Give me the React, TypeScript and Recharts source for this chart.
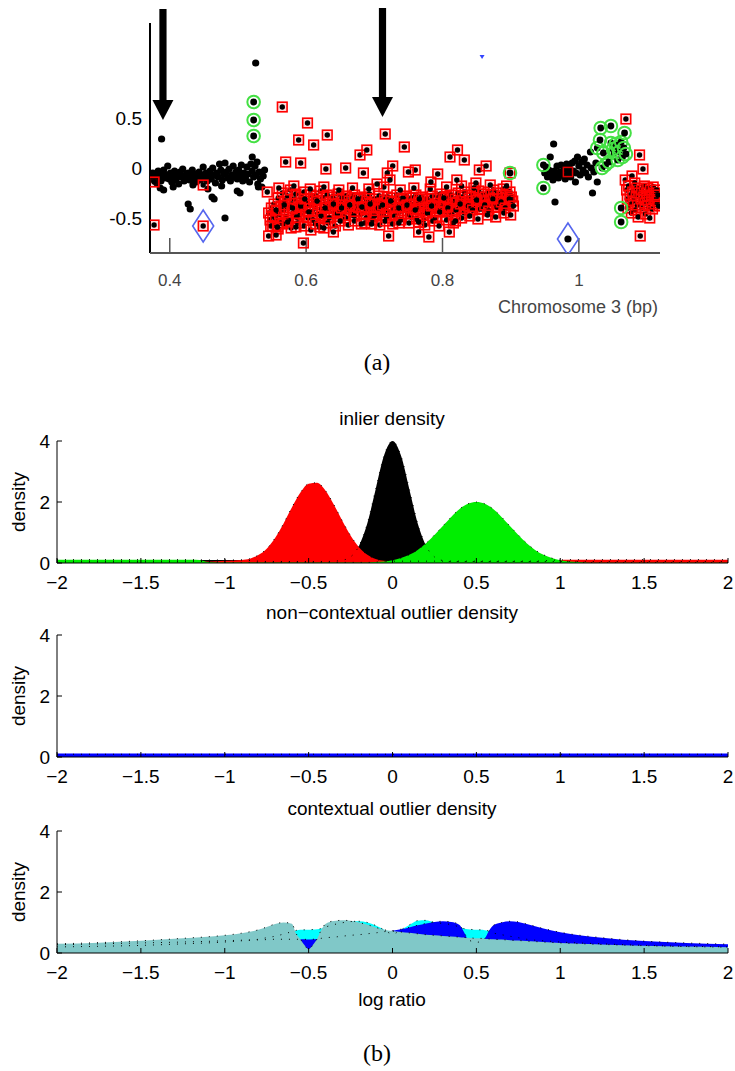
import React from "react";
import {
  ScatterChart,
  Scatter,
  ComposedChart,
  Area,
  Line,
  XAxis,
  YAxis,
  ReferenceLine,
} from "recharts";

const SANS = '"Liberation Sans", Arial, Helvetica, sans-serif';
const SERIF = '"Liberation Serif", "Times New Roman", serif';

// ---------- panel (a): chromosome 3 scatter ----------
const A_X_TICKS = [0.4, 0.6, 0.8, 1];
const A_Y_TICKS = [-0.5, 0, 0.5];

// plain black probes
const BLACK_PTS: [number, number][] = [
  [0.373, -0.1], [0.375, -0.05], [0.377, -0.12], [0.379, -0.08], [0.381, -0.15], [0.383, -0.03],
  [0.385, -0.09], [0.387, -0.13], [0.389, -0.06], [0.391, -0.02], [0.393, -0.1], [0.395, -0.07],
  [0.397, 0.02], [0.399, -0.11], [0.401, -0.05], [0.403, -0.14], [0.405, -0.08], [0.407, -0.03],
  [0.409, -0.12], [0.411, -0.06], [0.413, -0.16], [0.415, -0.04], [0.417, -0.09], [0.419, -0.01],
  [0.421, -0.13], [0.423, -0.07], [0.425, -0.1], [0.427, -0.05], [0.429, -0.12], [0.431, -0.08],
  [0.433, -0.02], [0.435, -0.11], [0.437, -0.06], [0.439, -0.14], [0.441, -0.09], [0.443, -0.04],
  [0.445, -0.12], [0.447, -0.07], [0.449, 0.01], [0.451, -0.1], [0.453, -0.05], [0.455, -0.13],
  [0.457, -0.08], [0.459, -0.03], [0.461, -0.11], [0.463, 0.0], [0.465, -0.07], [0.467, -0.15],
  [0.469, -0.05], [0.471, -0.09], [0.473, 0.04], [0.475, -0.02], [0.477, -0.12], [0.479, -0.06],
  [0.481, 0.05], [0.483, -0.04], [0.485, -0.1], [0.487, -0.01], [0.489, -0.13], [0.491, -0.07],
  [0.493, 0.02], [0.495, -0.09], [0.497, -0.04], [0.499, -0.11], [0.501, -0.02], [0.503, -0.08],
  [0.505, 0.03], [0.507, -0.13], [0.509, -0.05], [0.511, -0.1], [0.513, 0.01], [0.515, -0.06],
  [0.517, -0.14], [0.519, 0.04], [0.521, -0.03], [0.523, -0.09], [0.525, 0.02], [0.527, -0.07],
  [0.529, -0.16], [0.531, -0.04], [0.533, -0.11], [0.535, -0.19], [0.537, -0.08], [0.539, -0.02],
  [0.528, 0.06], [0.521, 0.11], [0.476, -0.18], [0.456, -0.21], [0.434, -0.17], [0.405, -0.19],
  [0.386, -0.2], [0.391, -0.22], [0.388, 0.29], [0.427, -0.36], [0.43, -0.41], [0.462, -0.29],
  [0.465, -0.31], [0.481, -0.5], [0.499, -0.23], [0.503, -0.25], [0.526, 1.05], [0.53, -0.19],
  [0.95, -0.05], [0.952, 0.01], [0.954, -0.09], [0.956, -0.02], [0.958, 0.11], [0.96, -0.06],
  [0.962, -0.12], [0.963, 0.24], [0.964, -0.03], [0.966, -0.08], [0.965, -0.34], [0.968, 0.02],
  [0.97, -0.1], [0.972, -0.04], [0.974, 0.03], [0.976, -0.07], [0.978, -0.01], [0.98, -0.11],
  [0.982, 0.04], [0.984, -0.06], [0.986, 0.0], [0.988, -0.09], [0.99, 0.05], [0.992, -0.03],
  [0.994, 0.07], [0.995, -0.14], [0.996, -0.05], [0.998, 0.11], [1.0, 0.02], [1.002, -0.07],
  [1.004, 0.06], [1.006, -0.02], [1.008, 0.09], [1.01, -0.05], [1.012, 0.03], [1.014, -0.09],
  [1.017, 0.16], [1.018, 0.0], [1.02, -0.25], [1.022, -0.04], [1.027, -0.14], [1.025, 0.05],
];

// red squares (state call: loss)
const RED_PTS: [number, number][] = [
  [0.377, -0.14], [0.377, -0.57], [0.449, -0.17], [0.449, -0.58],
  [0.545, -0.45], [0.547, -0.52], [0.549, -0.4], [0.551, -0.48], [0.553, -0.36], [0.555, -0.5],
  [0.557, -0.43], [0.559, -0.3], [0.561, -0.46], [0.563, -0.38], [0.565, -0.25], [0.567, -0.42],
  [0.569, -0.33], [0.571, -0.49], [0.573, -0.28], [0.575, -0.4], [0.577, -0.22], [0.579, -0.36],
  [0.581, -0.45], [0.583, -0.31], [0.585, -0.26], [0.587, -0.41], [0.589, -0.35], [0.591, -0.47],
  [0.593, -0.29], [0.595, -0.38], [0.597, -0.24], [0.599, -0.43], [0.601, -0.33], [0.603, -0.5],
  [0.605, -0.37], [0.607, -0.27], [0.609, -0.44], [0.611, -0.32], [0.613, -0.4], [0.615, -0.28],
  [0.617, -0.46], [0.619, -0.35], [0.621, -0.23], [0.623, -0.41], [0.625, -0.3], [0.627, -0.48],
  [0.629, -0.36], [0.631, -0.27], [0.633, -0.43], [0.635, -0.34], [0.637, -0.39], [0.639, -0.29],
  [0.641, -0.45], [0.643, -0.32], [0.645, -0.38], [0.647, -0.26], [0.649, -0.42], [0.651, -0.35],
  [0.653, -0.3], [0.655, -0.47], [0.657, -0.37], [0.659, -0.28], [0.661, -0.41], [0.663, -0.33],
  [0.665, -0.44], [0.667, -0.31], [0.669, -0.38], [0.671, -0.27], [0.673, -0.43], [0.675, -0.35],
  [0.677, -0.4], [0.679, -0.3], [0.681, -0.46], [0.683, -0.36], [0.685, -0.29], [0.687, -0.42],
  [0.689, -0.33], [0.691, -0.39], [0.693, -0.26], [0.695, -0.45], [0.697, -0.34], [0.699, -0.4],
  [0.701, -0.31], [0.703, -0.43], [0.705, -0.36], [0.707, -0.28], [0.709, -0.41], [0.711, -0.35],
  [0.713, -0.47], [0.715, -0.32], [0.717, -0.39], [0.719, -0.29], [0.721, -0.44], [0.723, -0.37],
  [0.725, -0.3], [0.727, -0.42], [0.729, -0.34], [0.731, -0.4], [0.733, -0.27], [0.735, -0.45],
  [0.737, -0.36], [0.739, -0.31], [0.741, -0.43], [0.743, -0.35], [0.745, -0.39], [0.747, -0.28],
  [0.749, -0.46], [0.751, -0.33], [0.753, -0.4], [0.755, -0.3], [0.757, -0.44], [0.759, -0.36],
  [0.761, -0.27], [0.763, -0.41], [0.765, -0.34], [0.767, -0.38], [0.769, -0.29], [0.771, -0.47],
  [0.773, -0.35], [0.775, -0.42], [0.777, -0.31], [0.779, -0.39], [0.781, -0.45], [0.783, -0.33],
  [0.785, -0.28], [0.787, -0.4], [0.789, -0.36], [0.791, -0.43], [0.793, -0.3], [0.795, -0.38],
  [0.797, -0.26], [0.799, -0.41], [0.801, -0.34], [0.803, -0.37], [0.805, -0.29], [0.807, -0.44],
  [0.809, -0.32], [0.811, -0.39], [0.813, -0.27], [0.815, -0.36], [0.817, -0.42], [0.819, -0.31],
  [0.821, -0.35], [0.823, -0.25], [0.825, -0.4], [0.827, -0.33], [0.829, -0.29], [0.831, -0.38],
  [0.833, -0.24], [0.835, -0.34], [0.837, -0.41], [0.839, -0.3], [0.841, -0.36], [0.843, -0.27],
  [0.845, -0.33], [0.847, -0.39], [0.849, -0.28], [0.851, -0.35], [0.853, -0.23], [0.855, -0.31],
  [0.857, -0.37], [0.859, -0.26], [0.861, -0.33], [0.863, -0.29], [0.865, -0.38], [0.867, -0.24],
  [0.869, -0.32], [0.871, -0.27], [0.873, -0.36], [0.875, -0.22], [0.877, -0.3], [0.879, -0.34],
  [0.881, -0.25], [0.883, -0.31], [0.885, -0.37], [0.887, -0.28], [0.889, -0.21], [0.891, -0.33],
  [0.893, -0.26], [0.895, -0.3], [0.897, -0.36], [0.899, -0.24], [0.901, -0.29], [0.903, -0.33],
  [0.548, -0.58], [0.556, -0.42], [0.562, -0.55], [0.568, -0.37], [0.574, -0.52], [0.58, -0.4],
  [0.586, -0.49], [0.592, -0.38], [0.598, -0.31], [0.604, -0.44], [0.61, -0.52], [0.616, -0.33],
  [0.622, -0.48], [0.628, -0.4], [0.634, -0.5], [0.64, -0.36], [0.646, -0.46], [0.652, -0.4],
  [0.658, -0.5], [0.664, -0.37], [0.67, -0.48], [0.676, -0.31], [0.682, -0.39], [0.688, -0.5],
  [0.694, -0.36], [0.7, -0.48], [0.706, -0.4], [0.712, -0.37], [0.718, -0.5], [0.724, -0.33],
  [0.73, -0.48], [0.736, -0.4], [0.742, -0.3], [0.748, -0.37], [0.754, -0.49], [0.76, -0.42],
  [0.766, -0.31], [0.772, -0.52], [0.778, -0.45], [0.784, -0.38], [0.79, -0.5], [0.796, -0.44],
  [0.802, -0.3], [0.808, -0.4], [0.814, -0.47], [0.82, -0.42], [0.826, -0.36], [0.832, -0.45],
  [0.838, -0.38], [0.844, -0.42], [0.85, -0.32], [0.856, -0.41], [0.862, -0.37], [0.868, -0.43],
  [0.874, -0.31], [0.88, -0.39], [0.886, -0.34], [0.892, -0.4], [0.898, -0.31], [0.904, -0.38],
  [0.551, -0.58], [0.559, -0.61], [0.566, -0.56], [0.578, -0.6], [0.588, -0.55], [0.597, -0.58],
  [0.607, -0.62], [0.614, -0.56], [0.62, -0.59], [0.632, -0.55], [0.643, -0.58], [0.65, -0.53],
  [0.662, -0.57], [0.671, -0.53], [0.686, -0.55], [0.698, -0.52], [0.708, -0.57], [0.716, -0.53],
  [0.727, -0.56], [0.739, -0.52], [0.751, -0.55], [0.762, -0.51], [0.774, -0.57], [0.786, -0.53],
  [0.795, -0.58], [0.806, -0.52], [0.816, -0.55], [0.828, -0.5], [0.84, -0.48], [0.852, -0.51],
  [0.866, -0.47], [0.878, -0.49], [0.89, -0.45], [0.9, -0.47],
  [0.56, -0.2], [0.582, -0.18], [0.606, -0.21], [0.626, -0.19], [0.648, -0.22], [0.668, -0.2],
  [0.692, -0.21], [0.714, -0.19], [0.738, -0.22], [0.758, -0.2], [0.782, -0.21], [0.806, -0.19],
  [0.828, -0.18], [0.846, -0.2], [0.87, -0.17], [0.894, -0.18],
  [0.565, 0.61], [0.602, 0.45], [0.589, 0.28], [0.611, 0.23], [0.631, 0.33], [0.57, 0.06],
  [0.592, 0.05], [0.629, -0.01], [0.658, 0.0], [0.679, 0.13], [0.689, 0.18], [0.716, 0.34],
  [0.744, 0.21], [0.727, 0.02], [0.719, -0.05], [0.684, -0.05], [0.704, -0.16], [0.723, -0.12],
  [0.76, -0.02], [0.75, -0.04], [0.793, -0.06], [0.811, 0.11], [0.822, 0.18], [0.832, 0.08],
  [0.821, -0.12], [0.854, -0.02], [0.864, 0.02], [0.899, -0.05], [0.849, -0.15], [0.783, -0.14],
  [0.543, -0.24], [0.545, -0.68], [0.556, -0.67], [0.596, -0.75], [0.573, -0.54], [0.585, -0.59],
  [0.626, -0.6], [0.64, -0.64], [0.681, -0.56], [0.696, -0.56], [0.721, -0.68], [0.736, -0.55],
  [0.765, -0.64], [0.78, -0.69], [0.81, -0.64], [0.819, -0.53], [0.765, -0.54], [0.558, -0.59],
  [1.068, -0.12], [1.07, -0.22], [1.071, -0.31], [1.072, -0.4], [1.073, -0.18], [1.075, -0.27],
  [1.076, -0.36], [1.077, -0.45], [1.078, -0.08], [1.079, -0.24], [1.08, -0.33], [1.082, -0.15],
  [1.083, -0.42], [1.084, -0.28], [1.085, -0.2], [1.086, -0.37], [1.087, -0.49], [1.088, -0.25],
  [1.089, 0.13], [1.09, -0.68], [1.091, -0.31], [1.092, -0.22], [1.093, -0.4], [1.094, -0.01],
  [1.095, -0.29], [1.096, -0.18], [1.097, -0.35], [1.098, -0.46], [1.099, -0.25], [1.1, -0.32],
  [1.101, -0.2], [1.102, -0.38], [1.103, -0.28], [1.104, -0.5], [1.105, -0.22], [1.106, -0.34],
  [1.107, -0.27], [1.108, -0.41], [1.109, -0.19], [1.11, -0.31], [1.111, -0.25], [1.112, -0.36],
  [1.113, -0.29], [1.114, -0.22], [1.115, -0.33], [1.116, -0.27], [1.117, -0.38], [1.069, 0.49],
];

// green circles (state call: gain)
const GREEN_PTS: [number, number][] = [
  [0.523, 0.66], [0.523, 0.48], [0.523, 0.32], [0.948, 0.03], [0.948, -0.2], [0.899, -0.05],
  [1.027, 0.2], [1.031, 0.28], [1.032, 0.4], [1.034, 0.0], [1.036, 0.15], [1.039, 0.03],
  [1.044, 0.06], [1.047, 0.42], [1.047, 0.25], [1.05, 0.19], [1.052, 0.15], [1.054, 0.24],
  [1.057, 0.21], [1.057, 0.08], [1.059, 0.16], [1.062, 0.26], [1.064, 0.11], [1.066, 0.2],
  [1.067, 0.35], [1.069, 0.14], [1.062, -0.4], [1.062, -0.54],
];

const DIAMOND_PTS: [number, number][] = [[0.449, -0.58], [0.984, -0.71]];
const LONE_BLACK_PTS: [number, number][] = [[0.984, -0.71]];
const EMPTY_RED_PTS: [number, number][] = [[0.984, -0.04]];
const BLUE_MARK_PTS: [number, number][] = [[0.858, 1.11]];
const ARROW_TIPS: [number, number][] = [[0.39, 0.48], [0.712, 0.51]];

// ---------- panel (b): densities over log ratio ----------
const LOG_TICKS = [-2, -1.5, -1, -0.5, 0, 0.5, 1, 1.5, 2];
const DENS_TICKS = [0, 2, 4];

const INL_X = [
  -2, -1.5, -1.2, -1.15, -1.1, -1.05, -1, -0.95, -0.9, -0.85, -0.8, -0.75, -0.7, -0.65, -0.6,
  -0.55, -0.5, -0.45, -0.4, -0.35, -0.3, -0.25, -0.2, -0.15, -0.1, -0.05, 0, 0.05, 0.1, 0.15,
  0.2, 0.25, 0.3, 0.35, 0.4, 0.45, 0.5, 0.55, 0.6, 0.65, 0.7, 0.75, 0.8, 0.85, 0.9, 0.95, 1,
  1.05, 1.1, 1.15, 1.2, 1.5, 2,
];
const INL_BLACK = [
  0.06, 0.06, 0.07, 0.1, 0.1, 0.1, 0.1, 0.1, 0.1, 0.08, 0.06, 0.05, 0.05, 0.05, 0.05,
  0.05, 0.05, 0.05, 0.05, 0.06, 0.09, 0.2, 0.56, 1.3, 2.43, 3.53, 4, 3.53, 2.43, 1.3,
  0.56, 0.2, 0.08, 0.05, 0.05, 0.05, 0.05, 0.05, 0.05, 0.05, 0.05, 0.05, 0.05, 0.05, 0.05, 0.05, 0.05,
  0.05, 0.05, 0.05, 0.05, 0.05, 0.05,
];
const INL_RED = [
  0.03, 0.03, 0.04, 0.05, 0.05, 0.06, 0.07, 0.08, 0.1, 0.14, 0.26, 0.47, 0.82, 1.29, 1.82,
  2.3, 2.6, 2.63, 2.38, 1.92, 1.39, 0.9, 0.52, 0.27, 0.13, 0.07, 0.06, 0.06, 0.06, 0.06,
  0.06, 0.06, 0.06, 0.06, 0.06, 0.06, 0.06, 0.06, 0.06, 0.06, 0.06, 0.06, 0.06, 0.06, 0.07, 0.09, 0.1,
  0.11, 0.11, 0.11, 0.11, 0.11, 0.11,
];
const INL_GREEN = [
  0.11, 0.11, 0.11, 0.1, 0.03, 0.02, 0.02, 0.02, 0.02, 0.02, 0.02, 0.02, 0.02, 0.02, 0.02,
  0.02, 0.02, 0.02, 0.02, 0.02, 0.02, 0.02, 0.02, 0.02, 0.03, 0.05, 0.09, 0.16, 0.27, 0.43,
  0.65, 0.92, 1.21, 1.51, 1.77, 1.94, 2.0, 1.94, 1.77, 1.51, 1.21, 0.92, 0.65, 0.43, 0.27, 0.16, 0.09,
  0.05, 0.03, 0.02, 0.01, 0.01, 0.01,
];

const NC_X = [-2, -1, 0, 1, 2];
const NC_BLUE = [0.09, 0.09, 0.09, 0.09, 0.09];

const CTX_X = [
  -2, -1.75, -1.5, -1.25, -1, -0.9, -0.8, -0.75, -0.7, -0.65, -0.6, -0.575, -0.55, -0.525,
  -0.5, -0.475, -0.45, -0.425, -0.4, -0.35, -0.3, -0.25, -0.2, -0.15, -0.1, -0.05, 0, 0.05,
  0.1, 0.15, 0.2, 0.25, 0.3, 0.35, 0.4, 0.425, 0.45, 0.475, 0.5, 0.525, 0.55, 0.575, 0.6,
  0.65, 0.7, 0.75, 0.8, 0.9, 1, 1.25, 1.5, 1.75, 2,
];
const CTX_TEAL = [
  0.3, 0.34, 0.4, 0.48, 0.58, 0.65, 0.76, 0.85, 0.95, 1.0, 0.96, 0.64, 0.46, 0.26,
  0.12, 0.26, 0.46, 0.75, 0.95, 1.05, 1.07, 1.06, 1.0, 0.93, 0.84, 0.76, 0.72, 0.69,
  0.66, 0.63, 0.6, 0.58, 0.56, 0.54, 0.52, 0.51, 0.5, 0.49, 0.48, 0.48, 0.47, 0.46, 0.45,
  0.44, 0.42, 0.41, 0.39, 0.36, 0.33, 0.28, 0.24, 0.21, 0.19,
];
const CTX_BLUE = [
  0.27, 0.3, 0.33, 0.36, 0.4, 0.42, 0.43, 0.44, 0.45, 0.45, 0.45, 0.45, 0.45, 0.45,
  0.44, 0.45, 0.46, 0.48, 0.5, 0.52, 0.55, 0.58, 0.6, 0.63, 0.66, 0.7, 0.73, 0.78,
  0.84, 0.91, 0.97, 1.02, 1.04, 1.02, 0.92, 0.7, 0.45, 0.38, 0.35, 0.38, 0.47, 0.72, 0.9,
  1.0, 1.04, 1.02, 0.95, 0.8, 0.68, 0.5, 0.39, 0.33, 0.29,
];
const CTX_CYAN = [
  0.2, 0.22, 0.25, 0.3, 0.36, 0.4, 0.45, 0.5, 0.55, 0.62, 0.7, 0.74, 0.76, 0.76,
  0.76, 0.77, 0.78, 0.8, 0.85, 0.93, 0.99, 1.03, 1.04, 1.0, 0.9, 0.76, 0.62, 0.76,
  0.92, 1.06, 1.07, 1.0, 0.97, 0.93, 0.85, 0.8, 0.78, 0.77, 0.76, 0.76, 0.75, 0.72, 0.66,
  0.6, 0.55, 0.5, 0.45, 0.4, 0.36, 0.3, 0.25, 0.22, 0.2,
];

const toXY = (pts: [number, number][]) => pts.map(([x, y]) => ({ x, y }));
const fmtLog = (v: number) => (v < 0 ? "\u2212" + Math.abs(v) : String(v));

const BlackDot = (p: any) => <circle cx={p.cx} cy={p.cy} r={3.6} fill="#000" />;
const RedBox = (p: any) => (
  <g>
    <rect
      x={p.cx - 4.8} y={p.cy - 4.8} width={9.6} height={9.6}
      fill="#ff0000" fillOpacity={0.14} stroke="#ff0000" strokeWidth={1.6}
    />
    <circle cx={p.cx} cy={p.cy} r={2.7} fill="#000" />
  </g>
);
const EmptyBox = (p: any) => (
  <rect x={p.cx - 4.6} y={p.cy - 4.6} width={9.2} height={9.2} fill="none" stroke="#e00000" strokeWidth={1.5} />
);
const GreenRing = (p: any) => (
  <g>
    <circle cx={p.cx} cy={p.cy} r={6.3} fill="none" stroke="#44e044" strokeWidth={2} />
    <circle cx={p.cx} cy={p.cy} r={3.4} fill="#000" />
  </g>
);
const Diamond = (p: any) => (
  <polygon
    points={`${p.cx},${p.cy - 16} ${p.cx + 10.5},${p.cy} ${p.cx},${p.cy + 16} ${p.cx - 10.5},${p.cy}`}
    fill="none"
    stroke="#5566ee"
    strokeWidth={1.6}
  />
);
const BlueMark = (p: any) => (
  <polygon points={`${p.cx - 2.5},${p.cy - 2} ${p.cx + 2.5},${p.cy - 2} ${p.cx},${p.cy + 2}`} fill="#3344ff" />
);
const Arrow = (p: any) => (
  <g fill="#000">
    <rect x={p.cx - 3.6} y={p.cy - 111} width={7.2} height={92} />
    <polygon points={`${p.cx - 10.5},${p.cy - 20} ${p.cx + 10.5},${p.cy - 20} ${p.cx},${p.cy}`} />
  </g>
);

function Txt(props: {
  x: number; y: number; size: number; children: React.ReactNode;
  anchor?: "start" | "middle" | "end"; color?: string; family?: string; rotate?: number;
}) {
  const { x, y, size, children, anchor = "middle", color = "#000", family = SANS, rotate } = props;
  const tx = anchor === "middle" ? "-50%" : anchor === "end" ? "-100%" : "0";
  return (
    <div
      style={{
        position: "absolute", left: x, top: y, fontSize: size, lineHeight: 1, color,
        fontFamily: family, whiteSpace: "nowrap",
        transform: `translate(${tx}, -50%)${rotate ? ` rotate(${rotate}deg)` : ""}`,
      }}
    >
      {children}
    </div>
  );
}

function PanelA() {
  return (
    <div style={{ position: "absolute", left: 0, top: 0 }}>
      <ScatterChart width={735} height={330} margin={{ top: 8, right: 75, bottom: 47, left: 90 }}>
        <XAxis
          dataKey="x" type="number" domain={[0.371, 1.119]} ticks={A_X_TICKS} allowDataOverflow
          height={30} tickSize={-15} tickMargin={36} interval={0}
          axisLine={{ stroke: "#555", strokeWidth: 2 }} tickLine={{ stroke: "#555", strokeWidth: 1.5 }}
          tick={{ fill: "#444", fontSize: 17, fontFamily: SANS }}
        />
        <YAxis
          dataKey="y" type="number" domain={[-0.85, 1.6]} ticks={A_Y_TICKS} allowDataOverflow
          width={60} axisLine={false} tickLine={false} tickSize={0} tickMargin={8} interval={0}
          tickFormatter={(v: number) => (v === 0 ? "0" : v.toFixed(1))}
          tick={{ fill: "#000", fontSize: 19, fontFamily: SANS }}
        />
        <ReferenceLine
          segment={[{ x: 0.371, y: -0.85 }, { x: 0.371, y: 1.45 }]}
          stroke="#000" strokeWidth={2} ifOverflow="visible"
        />
        <Scatter data={toXY(BLACK_PTS)} shape={BlackDot} isAnimationActive={false} />
        <Scatter data={toXY(RED_PTS)} shape={RedBox} isAnimationActive={false} />
        <Scatter data={toXY(EMPTY_RED_PTS)} shape={EmptyBox} isAnimationActive={false} />
        <Scatter data={toXY(GREEN_PTS)} shape={GreenRing} isAnimationActive={false} />
        <Scatter data={toXY(DIAMOND_PTS)} shape={Diamond} isAnimationActive={false} />
        <Scatter data={toXY(LONE_BLACK_PTS)} shape={BlackDot} isAnimationActive={false} />
        <Scatter data={toXY(BLUE_MARK_PTS)} shape={BlueMark} isAnimationActive={false} />
        <Scatter data={toXY(ARROW_TIPS)} shape={Arrow} isAnimationActive={false} />
      </ScatterChart>
    </div>
  );
}

type Series = { key: string; color: string };

function DensityPanel(props: { top: number; rows: any[]; series: Series[]; outline?: boolean }) {
  const { top, rows, series, outline } = props;
  return (
    <div style={{ position: "absolute", left: 0, top: top - 30 }}>
      <ComposedChart width={735} height={222} data={rows} margin={{ top: 30, right: 7, bottom: 40, left: 17 }}>
        <XAxis
          xAxisId="b" dataKey="x" type="number" domain={[-2, 2]} ticks={LOG_TICKS} allowDataOverflow
          height={30} tickSize={-5} tickMargin={18} interval={0} tickFormatter={fmtLog}
          axisLine={{ stroke: "#000" }} tickLine={{ stroke: "#000" }}
          tick={{ fill: "#000", fontSize: 19, fontFamily: SANS }}
        />
        <XAxis
          xAxisId="t" orientation="top" dataKey="x" type="number" domain={[-2, 2]} ticks={LOG_TICKS}
          allowDataOverflow height={0} tickSize={-5} interval={0} tick={false}
          axisLine={{ stroke: "#000" }} tickLine={{ stroke: "#000" }}
        />
        <YAxis
          yAxisId="l" type="number" domain={[0, 4]} ticks={DENS_TICKS} allowDataOverflow width={40}
          tickSize={-5} tickMargin={12} interval={0}
          axisLine={{ stroke: "#000" }} tickLine={{ stroke: "#000" }}
          tick={{ fill: "#000", fontSize: 19, fontFamily: SANS }}
        />
        <YAxis
          yAxisId="r" orientation="right" type="number" domain={[0, 4]} ticks={DENS_TICKS}
          allowDataOverflow width={0} tickSize={-5} interval={0} tick={false}
          axisLine={{ stroke: "#000" }} tickLine={{ stroke: "#000" }}
        />
        {series.map((s) => (
          <Area
            key={"a" + s.key} xAxisId="b" yAxisId="l" type="monotone" dataKey={s.key}
            fill={s.color} fillOpacity={1} stroke={outline ? s.color : "none"} strokeWidth={1.5}
            isAnimationActive={false}
          />
        ))}
        {series.map((s) => (
          <Line
            key={"l" + s.key} xAxisId="b" yAxisId="l" type="monotone" dataKey={s.key}
            stroke="#000" strokeWidth={1} strokeDasharray="1 7" dot={false} activeDot={false}
            isAnimationActive={false}
          />
        ))}
      </ComposedChart>
    </div>
  );
}

export default function App() {
  const inlierRows = INL_X.map((x, i) => ({ x, black: INL_BLACK[i], red: INL_RED[i], green: INL_GREEN[i] }));
  const ncRows = NC_X.map((x, i) => ({ x, blue: NC_BLUE[i] }));
  const ctxRows = CTX_X.map((x, i) => ({ x, cyan: CTX_CYAN[i], blue: CTX_BLUE[i], teal: CTX_TEAL[i] }));

  return (
    <div style={{ position: "absolute", left: 0, top: 0, width: 735, height: 1071, background: "#fff", overflow: "hidden" }}>
      <PanelA />
      <Txt x={658} y={307} size={18} anchor="end" color="#444">Chromosome 3 (bp)</Txt>
      <Txt x={377} y={362} size={24} family={SERIF}>(a)</Txt>

      <Txt x={392} y={418} size={19}>inlier density</Txt>
      <DensityPanel
        top={441}
        rows={inlierRows}
        series={[
          { key: "black", color: "#000000" },
          { key: "red", color: "#ff0000" },
          { key: "green", color: "#00ee00" },
        ]}
      />
      <Txt x={18} y={502} size={19} rotate={-90}>density</Txt>

      <Txt x={392} y={612} size={19}>non{"\u2212"}contextual outlier density</Txt>
      <DensityPanel top={635} rows={ncRows} series={[{ key: "blue", color: "#0000ff" }]} outline />
      <Txt x={18} y={696} size={19} rotate={-90}>density</Txt>

      <Txt x={392} y={808} size={19}>contextual outlier density</Txt>
      <DensityPanel
        top={831}
        rows={ctxRows}
        series={[
          { key: "cyan", color: "#00ffff" },
          { key: "blue", color: "#0000ff" },
          { key: "teal", color: "#80c8c8" },
        ]}
      />
      <Txt x={18} y={892} size={19} rotate={-90}>density</Txt>
      <Txt x={392} y={999} size={19}>log ratio</Txt>
      <Txt x={377} y={1053} size={24} family={SERIF}>(b)</Txt>
    </div>
  );
}
